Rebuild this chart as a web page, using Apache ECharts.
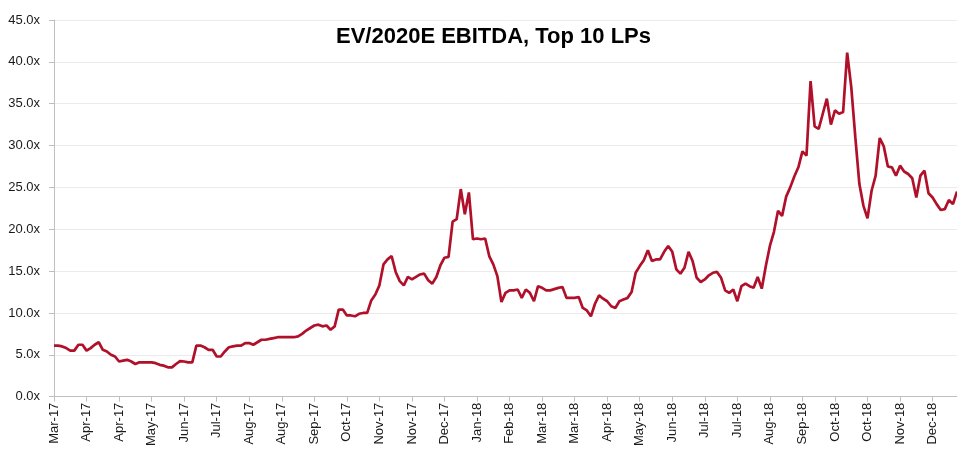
<!DOCTYPE html>
<html>
<head>
<meta charset="utf-8">
<script src="https://cdn.jsdelivr.net/npm/echarts@6/dist/echarts.min.js"></script>
<style>
  html, body { margin: 0; padding: 0; background: #fff; }
  #chart { width: 957px; height: 449px; }
</style>
</head>
<body>
<div id="chart"></div>
<script>
// tick labels, one every 8 points
const tickLabels = ['Mar-17', 'Apr-17', 'Apr-17', 'May-17', 'Jun-17', 'Jul-17', 'Aug-17', 'Aug-17',
  'Sep-17', 'Oct-17', 'Nov-17', 'Nov-17', 'Dec-17', 'Jan-18', 'Feb-18', 'Mar-18', 'Mar-18',
  'Apr-18', 'May-18', 'Jun-18', 'Jul-18', 'Jul-18', 'Aug-18', 'Sep-18', 'Oct-18', 'Oct-18',
  'Nov-18', 'Dec-18'];
const pointsPerTick = 8;

// EV / 2020E EBITDA multiple (x)
const multiple = [
  6.1, 6.1, 6.0, 5.8, 5.5, 5.5, 6.2, 6.2, 5.5, 5.8, 6.2, 6.5, 5.6, 5.4, 5.0, 4.8,
  4.2, 4.3, 4.4, 4.2, 3.9, 4.1, 4.1, 4.1, 4.1, 4.0, 3.8, 3.7, 3.5, 3.5, 3.9, 4.25,
  4.2, 4.1, 4.1, 6.1, 6.1, 5.9, 5.6, 5.6, 4.8, 4.8, 5.4, 5.9, 6.0, 6.1, 6.1, 6.4,
  6.4, 6.2, 6.5, 6.8, 6.8, 6.9, 7.0, 7.1, 7.1, 7.1, 7.1, 7.1, 7.2, 7.5, 7.9, 8.2,
  8.5, 8.6, 8.4, 8.5, 8.0, 8.4, 10.4, 10.4, 9.7, 9.7, 9.6, 9.9, 10.0, 10.0, 11.5, 12.2,
  13.3, 15.8, 16.4, 16.8, 14.9, 13.8, 13.3, 14.3, 14.0, 14.3, 14.6, 14.7, 13.9, 13.5, 14.3, 15.7,
  16.6, 16.7, 20.9, 21.2, 24.8, 21.8, 24.4, 18.8, 18.9, 18.8, 18.9, 16.8, 15.8, 14.4, 11.3, 12.4,
  12.7, 12.7, 12.8, 11.8, 12.8, 12.4, 11.4, 13.2, 13.0, 12.7, 12.7, 12.85, 13.0, 13.1, 11.8, 11.8,
  11.8, 11.9, 10.6, 10.3, 9.6, 11.1, 12.1, 11.7, 11.4, 10.8, 10.6, 11.4, 11.6, 11.8, 12.5, 14.8,
  15.6, 16.3, 17.5, 16.2, 16.4, 16.4, 17.3, 18.0, 17.3, 15.2, 14.7, 15.4, 17.3, 16.2, 14.2, 13.7,
  14.0, 14.5, 14.8, 14.9, 14.2, 12.7, 12.4, 12.8, 11.4, 13.2, 13.5, 13.2, 13.0, 14.3, 12.9, 15.6,
  18.0, 19.7, 22.2, 21.6, 23.9, 25.0, 26.3, 27.4, 29.3, 28.8, 37.7, 32.3, 32.0, 33.8, 35.6, 32.5,
  34.2, 33.8, 34.0, 41.1, 37.0, 31.0, 25.4, 22.8, 21.3, 24.6, 26.4, 30.9, 29.9, 27.5, 27.4, 26.4,
  27.6, 26.9, 26.6, 26.1, 23.8, 26.4, 27.0, 24.3, 23.8, 23.0, 22.3, 22.4, 23.5, 23.0, 24.5
];

const yTicks = { min: 0, max: 45, step: 5 };

const categories = multiple.map((_, i) => i);
const font = '"Liberation Sans", Arial, sans-serif';

const chart = echarts.init(document.getElementById('chart'));

chart.setOption({
  animation: false,
  title: {
    text: 'EV/2020E EBITDA, Top 10 LPs',
    left: 331,
    top: 21,
    textStyle: { fontFamily: font, fontWeight: 'bold', fontSize: 22, color: '#000' }
  },
  grid: { left: 54, right: 0, top: 20, bottom: 51 },
  xAxis: {
    type: 'category',
    data: categories,
    boundaryGap: false,
    axisLine: { lineStyle: { color: '#BFBFBF', width: 1 } },
    axisTick: { interval: pointsPerTick - 1, length: 5, lineStyle: { color: '#BFBFBF' } },
    axisLabel: {
      interval: pointsPerTick - 1,
      rotate: 90,
      margin: 6,
      fontFamily: font,
      fontSize: 13,
      color: '#1a1a1a',
      formatter: (v, i) => tickLabels[Math.round(i / pointsPerTick)] || ''
    },
    splitLine: { show: false }
  },
  yAxis: {
    type: 'value',
    min: yTicks.min,
    max: yTicks.max,
    interval: yTicks.step,
    axisLine: { show: true, lineStyle: { color: '#BFBFBF', width: 1 } },
    axisTick: { show: true, length: 5, lineStyle: { color: '#BFBFBF' } },
    axisLabel: {
      margin: 14,
      fontFamily: font,
      fontSize: 13,
      color: '#1a1a1a',
      formatter: v => v.toFixed(1) + 'x'
    },
    splitLine: { lineStyle: { color: '#EBEBEB', width: 1 } }
  },
  series: [{
    name: 'EV/2020E EBITDA',
    type: 'line',
    data: multiple,
    showSymbol: false,
    lineStyle: { color: '#B0102A', width: 2.7 },
    itemStyle: { color: '#B0102A' }
  }]
});
</script>
</body>
</html>
